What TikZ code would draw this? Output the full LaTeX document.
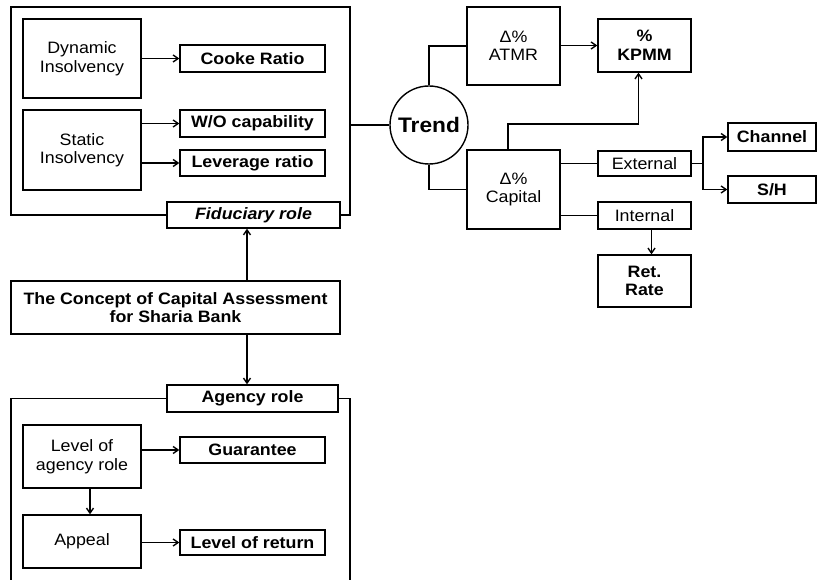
\documentclass[tikz,border=0pt]{standalone}
\usepackage{fontspec}
\setmainfont{Liberation Sans}[FakeStretch=1.08]
\usetikzlibrary{arrows.meta}
\begin{document}
\begin{tikzpicture}[x=1pt,y=-1pt,
  every node/.style={font=\fontsize{16.5}{18.5}\selectfont},
  box/.style={draw, line width=1.4pt, rectangle, inner sep=0pt, align=center},
  bbox/.style={box, font=\fontsize{16.5}{18.5}\selectfont\bfseries},
  ln/.style={line width=1.4pt},
  arr/.style={ln, -{Straight Barb[length=5pt,width=7pt]}}]
\useasboundingbox (0,0) rectangle (817,580);
% fiduciary part
\node[box, minimum width=118, minimum height=79] (dyn) at (82,58.5) {Dynamic\\Insolvency};
\node[bbox, minimum width=145, minimum height=27] (cooke) at (252.5,58.5) {Cooke Ratio};
\node[box, minimum width=118, minimum height=80] (stat) at (82,150) {Static\\Insolvency};
\node[bbox, minimum width=145, minimum height=27] (wo) at (252.5,123.5) {W/O capability};
\node[bbox, minimum width=145, minimum height=26] (lev) at (252.5,163) {Leverage ratio};
\node[bbox, minimum width=173, minimum height=26, font=\fontsize{16.5}{18.5}\selectfont\bfseries\itshape] (fid) at (253.5,215) {Fiduciary role};
\coordinate (f1) at (11,215);
\coordinate (f2) at (11,7);
\coordinate (f3) at (350,7);
\coordinate (f4) at (350,215);
\coordinate (fr) at (350,125);
\draw[ln] (fid.west) -- (f1) -- (f2) -- (f3) -- (f4) -- (fid.east);
\draw[arr] (dyn.east |- cooke.west) -- (cooke.west);
\draw[arr] (stat.east |- wo.west) -- (wo.west);
\draw[arr] (stat.east |- lev.west) -- (lev.west);
% trend part
\node[draw, circle, line width=1.4pt, minimum size=78, inner sep=0pt, font=\fontsize{21}{23}\selectfont\bfseries] (trend) at (429,125) {Trend};
\node[box, minimum width=93, minimum height=78] (atmr) at (513.5,46) {Δ\%\\ATMR};
\node[bbox, minimum width=93, minimum height=53] (kpmm) at (644.5,45.5) {\%\\KPMM};
\node[box, minimum width=93, minimum height=79] (cap) at (513.5,189.5) {Δ\%\\Capital};
\node[box, minimum width=93, minimum height=25] (ext) at (644.5,163.5) {External};
\node[box, minimum width=93, minimum height=27] (int) at (644.5,215.5) {Internal};
\node[bbox, minimum width=93, minimum height=52] (ret) at (644.5,281) {Ret.\\Rate};
\node[bbox, minimum width=88, minimum height=28] (chan) at (772,137) {Channel};
\node[bbox, minimum width=88, minimum height=27] (sh) at (772,189.5) {S/H};
\draw[ln] (fr) -- (trend.west);
\draw[ln] (trend.north) -- (trend.north |- atmr.west) -- (atmr.west);
\draw[ln] (trend.south) -- (trend.south |- cap.west) -- (cap.west);
\draw[arr] (atmr.east |- kpmm.west) -- (kpmm.west);
\coordinate (ck) at (508,124);
\draw[arr] (cap.north -| ck) -- (ck) -- ([xshift=-6]kpmm.south |- ck) -- ([xshift=-6]kpmm.south);
\draw[ln] (cap.east |- ext.west) -- (ext.west);
\draw[ln] (cap.east |- int.west) -- (int.west);
\coordinate (fk) at (703,163.5);
\draw[ln] (ext.east) -- (fk);
\draw[arr] (fk) -- (fk |- chan.west) -- (chan.west);
\draw[arr] (fk) -- (fk |- sh.west) -- (sh.west);
\draw[arr] ([xshift=7]int.south) -- ([xshift=7]ret.north);
% concept
\node[bbox, minimum width=329, minimum height=53] (concept) at (175.5,307.5) {The Concept of Capital Assessment\\for Sharia Bank};
\coordinate (cx) at (247,0);
\draw[arr] (concept.north -| cx) -- (fid.south -| cx);
% agency part
\node[bbox, minimum width=171, minimum height=27] (agency) at (252.5,398.5) {Agency role};
\draw[arr] (concept.south -| cx) -- (agency.north -| cx);
\coordinate (a1) at (11,398.5);
\coordinate (a2) at (11,580);
\coordinate (a3) at (350,398.5);
\coordinate (a4) at (350,580);
\draw[ln] (agency.west) -- (a1) -- (a2);
\draw[ln] (agency.east) -- (a3) -- (a4);
\node[box, minimum width=118, minimum height=63] (loa) at (82,456.5) {Level of\\agency role};
\node[bbox, minimum width=145, minimum height=26] (guar) at (252.5,450) {Guarantee};
\node[box, minimum width=118, minimum height=53] (app) at (82,541.5) {Appeal};
\node[bbox, minimum width=145, minimum height=25] (lret) at (252.5,542.5) {Level of return};
\draw[arr] (loa.east |- guar.west) -- (guar.west);
\draw[arr] ([xshift=8]loa.south) -- ([xshift=8]app.north);
\draw[arr] (app.east |- lret.west) -- (lret.west);
\end{tikzpicture}
\end{document}
